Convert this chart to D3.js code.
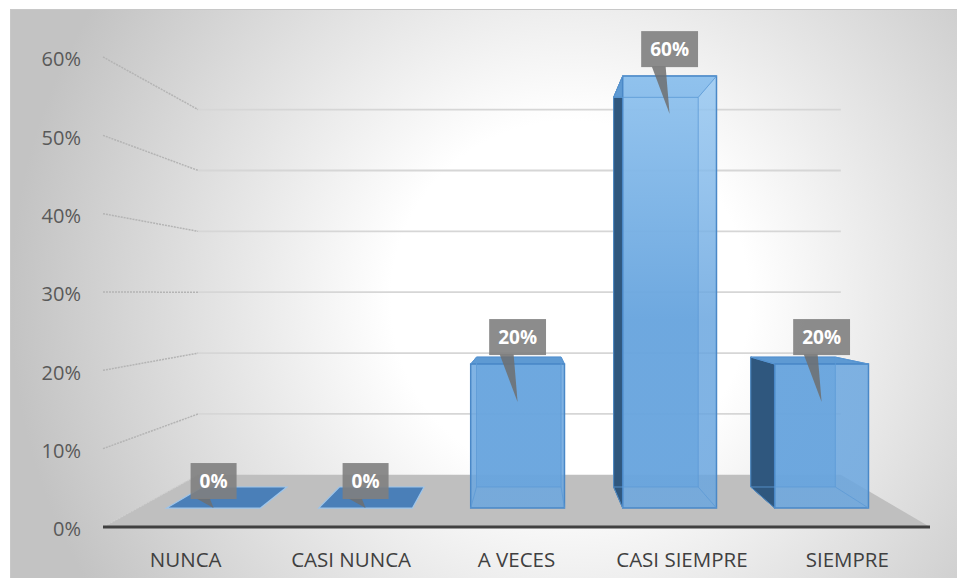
<!DOCTYPE html>
<html>
<head>
<meta charset="utf-8">
<script src="https://cdn.jsdelivr.net/npm/d3@7/dist/d3.min.js"></script>
<style>
  html, body { margin: 0; padding: 0; background: #ffffff; }
  svg { display: block; }
</style>
</head>
<body>
<svg id="chart" width="957" height="578"></svg>
<script>
// ---- data ----
const categories = ["NUNCA", "CASI NUNCA", "A VECES", "CASI SIEMPRE", "SIEMPRE"];
const values = [0, 0, 0.2, 0.6, 0.2];
const valueLabels = ["0%", "0%", "20%", "60%", "20%"];
const yTicks = [0, 0.1, 0.2, 0.3, 0.4, 0.5, 0.6];
const yTickLabels = ["0%", "10%", "20%", "30%", "40%", "50%", "60%"];

// ---- layout / perspective ----
const W = 957, H = 578;
const VX = 530, VY = 293;          // vanishing point
const K_BACK = 0.777;              // scale of back wall
const K_BAR_F = 0.919, K_BAR_B = 0.829;  // bar depth (front / back)

const svg = d3.select("#chart");
const defs = svg.append("defs");

const x = d3.scaleBand().domain(categories).range([103, 930]).paddingInner(0.383).paddingOuter(0.1915);
const y = d3.scaleLinear().domain([0, 0.6]).range([527, 57]);

function proj(xf, yf, k) { return [VX + (xf - VX) * k, VY + (yf - VY) * k]; }
const line = d3.line();

// background gradient
const bg = defs.append("radialGradient").attr("id", "bg")
  .attr("gradientUnits", "userSpaceOnUse").attr("cx", 570).attr("cy", 300).attr("r", 560);
bg.append("stop").attr("offset", 0).attr("stop-color", "#ffffff");
bg.append("stop").attr("offset", 0.32).attr("stop-color", "#ffffff");
bg.append("stop").attr("offset", 1).attr("stop-color", "#c3c3c3");

const fg = defs.append("linearGradient").attr("id", "barFront")
  .attr("gradientUnits", "userSpaceOnUse").attr("x1", 0).attr("y1", 60).attr("x2", 0).attr("y2", 320);
fg.append("stop").attr("offset", 0).attr("stop-color", "#9ccbf3");
fg.append("stop").attr("offset", 1).attr("stop-color", "#6aa6df");

svg.append("rect").attr("x", 10.5).attr("y", 9.5).attr("width", W - 10).attr("height", H - 9)
  .attr("fill", "url(#bg)").attr("stroke", "#c8c8c8").attr("stroke-width", 1);

// floor
const xl = x.range()[0], xr = x.range()[1];
const floorPts = [proj(xl, y(0), 1), proj(xl, y(0), K_BACK), proj(xr, y(0), K_BACK), proj(xr, y(0), 1)];
svg.append("path").attr("d", line(floorPts) + "Z").attr("fill", "#bfbfbf");
svg.append("path").attr("d", line([proj(xl, y(0), 1), proj(xl, y(0), K_BACK)]))
  .attr("stroke", "#d0d0d0").attr("stroke-width", 1.2).attr("stroke-dasharray", "2,1").attr("fill", "none");

// gridlines: side wall + back wall
yTicks.filter(t => t > 0).forEach(t => {
  svg.append("path").attr("d", line([proj(xl, y(t), 1), proj(xl, y(t), K_BACK)]))
    .attr("stroke", "#b4b4b4").attr("stroke-width", 1.5).attr("stroke-dasharray", "2,1").attr("fill", "none");
  svg.append("path").attr("d", line([proj(xl, y(t), K_BACK), proj(xr, y(t), K_BACK)]))
    .attr("stroke", "#d6d6d6").attr("stroke-width", 1.8).attr("fill", "none");
});

// bars
const barStroke = "#4a88c7";
categories.forEach((c, i) => {
  const v = values[i];
  const x0 = x(c), x1 = x(c) + x.bandwidth();
  const y0 = y(0), y1 = y(v);
  const P = (xf, yf, k) => proj(xf, yf, k);
  const g = svg.append("g");
  if (v === 0) {
    const top = [P(x0, y0, K_BAR_F), P(x0, y0, K_BAR_B), P(x1, y0, K_BAR_B), P(x1, y0, K_BAR_F)];
    g.append("path").attr("d", line(top) + "Z").attr("fill", "#4a7fb8").attr("stroke", "#9ec5ea").attr("stroke-width", 1.2);
    return;
  }
  const back = [P(x0, y0, K_BAR_B), P(x1, y0, K_BAR_B), P(x1, y1, K_BAR_B), P(x0, y1, K_BAR_B)];
  const front = [P(x0, y0, K_BAR_F), P(x1, y0, K_BAR_F), P(x1, y1, K_BAR_F), P(x0, y1, K_BAR_F)];
  const left = [P(x0, y0, K_BAR_F), P(x0, y0, K_BAR_B), P(x0, y1, K_BAR_B), P(x0, y1, K_BAR_F)];
  const right = [P(x1, y0, K_BAR_F), P(x1, y0, K_BAR_B), P(x1, y1, K_BAR_B), P(x1, y1, K_BAR_F)];
  const top = [P(x0, y1, K_BAR_F), P(x0, y1, K_BAR_B), P(x1, y1, K_BAR_B), P(x1, y1, K_BAR_F)];
  g.append("path").attr("d", line(back) + "Z").attr("fill", "#5b9bd5").attr("fill-opacity", 0.75);
  if (x0 > VX) g.append("path").attr("d", line(left) + "Z").attr("fill", "#2f577e").attr("stroke", "#2a5a88").attr("stroke-width", 1);
  if (x1 < VX) g.append("path").attr("d", line(right) + "Z").attr("fill", "#2f577e").attr("stroke", "#2a5a88").attr("stroke-width", 1);
  g.append("path").attr("d", line(top) + "Z").attr("fill", "#5e9ad3").attr("stroke", barStroke).attr("stroke-width", 1);
  g.append("path").attr("d", line(front) + "Z").attr("fill", "url(#barFront)").attr("fill-opacity", 0.85)
    .attr("stroke", barStroke).attr("stroke-width", 1.5);
  // inner (back) edges seen through the transparent front
  g.append("path").attr("d", line(back) + "Z").attr("fill", "none").attr("stroke", "#5c9ad6").attr("stroke-opacity", 0.8).attr("stroke-width", 1);
  [[P(x0, y0, K_BAR_F), P(x0, y0, K_BAR_B)], [P(x1, y0, K_BAR_F), P(x1, y0, K_BAR_B)],
   [P(x0, y1, K_BAR_F), P(x0, y1, K_BAR_B)], [P(x1, y1, K_BAR_F), P(x1, y1, K_BAR_B)]].forEach(s => {
    g.append("path").attr("d", line(s)).attr("stroke", "#5c9ad6").attr("stroke-opacity", 0.8).attr("stroke-width", 1);
  });
});

// front axis line
svg.append("path").attr("d", line([proj(xl, y(0), 1), proj(xr, y(0), 1)]))
  .attr("stroke", "#404040").attr("stroke-width", 3);

// y tick labels
svg.append("g").selectAll("text").data(yTicks).join("text")
  .attr("x", 81).attr("y", d => y(d) + 2).attr("dy", "0.36em")
  .attr("text-anchor", "end")
  .style("font-family", "'Open Sans', sans-serif").style("font-size", "20px").style("fill", "#595959")
  .text((d, i) => yTickLabels[i]);

// category labels
svg.append("g").selectAll("text").data(categories).join("text")
  .attr("x", d => x(d) + x.bandwidth() / 2).attr("y", 567)
  .attr("text-anchor", "middle")
  .style("font-family", "'Open Sans', sans-serif").style("font-size", "20.5px").style("fill", "#404040")
  .text(d => d);

// data label callouts
categories.forEach((c, i) => {
  const v = values[i];
  const cxF = x(c) + x.bandwidth() / 2;
  const [cx, topY] = proj(cxF, y(v), K_BAR_F);
  const [, baseY] = proj(cxF, y(0), K_BAR_F);
  const g = svg.append("g");
  const t = g.append("text").attr("x", cx).attr("y", 0)
    .attr("text-anchor", "middle")
    .style("font-family", "'Open Sans', sans-serif").style("font-weight", "bold")
    .style("font-size", "19px").style("fill", "#ffffff").text(valueLabels[i]);
  const tw = t.node().getComputedTextLength();
  const bw = tw + 18, bh = 36;
  const bottom = topY - 9;
  const tipY = Math.min(bottom + 47, baseY);
  g.insert("path", "text").attr("d", line([[cx - 18, bottom - 1], [cx - 4, bottom - 1], [cx, tipY]]) + "Z")
    .attr("fill", "#6f6f6f").attr("fill-opacity", 0.85);
  g.insert("rect", "text").attr("x", cx - bw / 2).attr("y", bottom - bh).attr("width", bw).attr("height", bh)
    .attr("fill", "#808080").attr("fill-opacity", 0.9);
  t.attr("y", bottom - bh / 2).attr("dy", "0.36em");
});
</script>
</body>
</html>
